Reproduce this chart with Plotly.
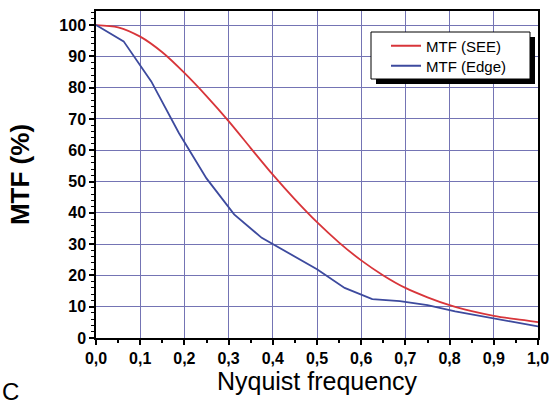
import plotly.graph_objects as go

# Data
see_x = [0.0, 0.05, 0.1, 0.15, 0.2, 0.25, 0.3, 0.35, 0.4, 0.45, 0.5,
         0.55, 0.6, 0.65, 0.7, 0.75, 0.8, 0.85, 0.9, 0.95, 1.0]
see_y = [100, 99.3, 96.3, 91.3, 84.7, 77.3, 69.3, 60.7, 52.2, 44.3, 37.0,
         30.5, 24.8, 20.0, 16.0, 13.0, 10.5, 8.6, 7.1, 6.0, 5.1]

edge_x = [0.0, 0.0625, 0.125, 0.1875, 0.25, 0.3125, 0.375, 0.4375, 0.5,
          0.5625, 0.625, 0.6875, 0.75, 0.8125, 0.875, 0.9375, 1.0]
edge_y = [100, 94.8, 82.0, 65.5, 51.0, 39.5, 32.0, 27.0, 22.0,
          16.0, 12.4, 11.8, 10.5, 8.5, 6.8, 5.3, 3.7]

x_ticks = [0.0, 0.1, 0.2, 0.3, 0.4, 0.5, 0.6, 0.7, 0.8, 0.9, 1.0]
y_ticks = [0, 10, 20, 30, 40, 50, 60, 70, 80, 90, 100]

names = ["MTF (SEE)", "MTF (Edge)"]
colors = ["#d8353a", "#3d4a9e"]

FONT = "Liberation Sans, Arial, sans-serif"
GRID = "#7474b4"

fig = go.Figure()
fig.add_trace(go.Scatter(x=see_x, y=see_y, mode="lines", name=names[0], legend="legend",
                         line=dict(color=colors[0], width=1.8, shape="spline", smoothing=0.8)))
fig.add_trace(go.Scatter(x=edge_x, y=edge_y, mode="lines", name=names[1], legend="legend2",
                         line=dict(color=colors[1], width=1.8)))

L, R, T, B = 96, 13, 11, 69
W, H = 551, 407
pw = W - L - R
ph = H - T - B

def px2x(px):
    return (px - L) / pw

def py2y(py):
    return (H - B - py) / ph

# legend shadow and box
fig.add_shape(type="rect", xref="paper", yref="paper",
              x0=px2x(376), x1=px2x(535), y0=py2y(84), y1=py2y(37),
              fillcolor="black", line=dict(width=0), layer="above")
fig.add_shape(type="rect", xref="paper", yref="paper",
              x0=px2x(371), x1=px2x(530), y0=py2y(79), y1=py2y(32),
              fillcolor="white", line=dict(color="black", width=1), layer="above")

fig.add_annotation(text="C", xref="paper", yref="paper",
                   x=px2x(0), y=py2y(391), xanchor="left", yanchor="middle",
                   showarrow=False, font=dict(family=FONT, size=24, color="black"))

leg_common = dict(xanchor="left", yanchor="middle", bgcolor="rgba(0,0,0,0)", borderwidth=0,
                  font=dict(family=FONT, size=15, color="black"), itemwidth=30)

fig.update_layout(
    width=W, height=H,
    margin=dict(l=L, r=R, t=T, b=B, autoexpand=False),
    paper_bgcolor="white", plot_bgcolor="white",
    separators=",.",
    font=dict(family=FONT, color="black"),
    showlegend=True,
    legend=dict(x=px2x(386), y=py2y(46), **leg_common),
    legend2=dict(x=px2x(386), y=py2y(66), **leg_common),
    xaxis=dict(range=[0, 1], tickvals=x_ticks, tickformat=".1f",
               showgrid=True, gridcolor=GRID, gridwidth=1,
               showline=True, linecolor="black", linewidth=1.5, mirror=True,
               ticks="outside", ticklen=5, tickwidth=1.5, tickcolor="black",
               minor=dict(dtick=0.05, ticks="outside", ticklen=3, tickwidth=1.5,
                          tickcolor="black", showgrid=False),
               tickfont=dict(family=FONT, size=16, weight="bold"),
               zeroline=False,
               title=dict(text="Nyquist frequency", standoff=6,
                          font=dict(family=FONT, size=25))),
    yaxis=dict(range=[0, 104.5], tickvals=y_ticks,
               showgrid=True, gridcolor=GRID, gridwidth=1,
               showline=True, linecolor="black", linewidth=1.5, mirror=True,
               ticks="outside", ticklen=5, tickwidth=1.5, tickcolor="black",
               minor=dict(dtick=2, ticks="outside", ticklen=3, tickwidth=1,
                          tickcolor="black", showgrid=False),
               tickfont=dict(family=FONT, size=16, weight="bold"),
               zeroline=False,
               title=dict(text="MTF (%)", standoff=22,
                          font=dict(family=FONT, size=26, weight="bold"))),
)

fig.write_html("out.html")
